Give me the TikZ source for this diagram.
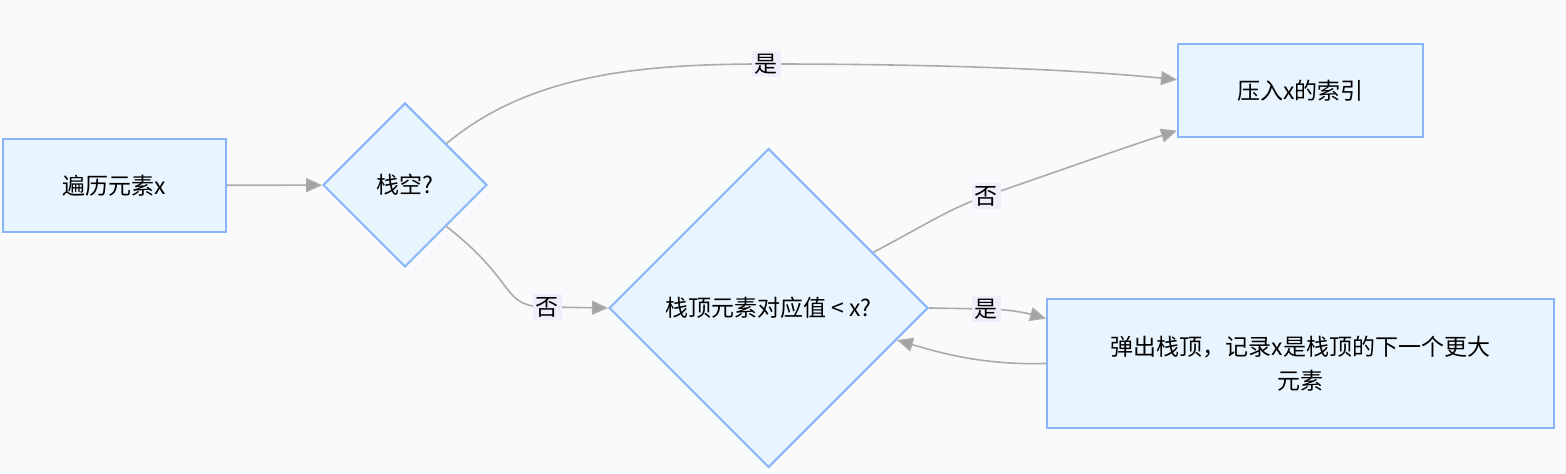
\documentclass[tikz,border=0pt]{standalone}
\usepackage{fontspec}
\setmainfont{Noto Sans CJK SC}
\usetikzlibrary{arrows.meta,shapes.geometric}
\definecolor{Canvas}{HTML}{F9FAFC}
\definecolor{Stroke}{HTML}{8AB4F8}
\definecolor{Fill}{HTML}{E8F4FE}
\definecolor{Edge}{HTML}{ABABAB}
\definecolor{Tip}{HTML}{A3A3A3}
\definecolor{Tag}{HTML}{F2EDFB}
\tikzset{box/.style={draw=Stroke,fill=Fill,line width=1pt,align=center,inner sep=0pt},choice/.style={diamond,aspect=1,draw=Stroke,fill=Fill,line width=1pt,align=center,inner sep=0pt},flow/.style={-{Triangle[length=8pt,width=7pt,fill=Tip]},line width=.8pt,draw=Edge},tag/.style={fill=Tag,inner sep=1.5pt}}

\begin{document}
\begin{tikzpicture}[x=.5pt,y=.5pt,every node/.style={font=\fontsize{11.5}{17}\selectfont}]
      \fill[Canvas](0,0)rectangle(1566,474);
      \useasboundingbox(0,0)rectangle(1566,474);
      \node[box,minimum width=111.5pt,minimum height=46.5pt](loop)at(114.5,288.5){遍历元素x};
      \node[choice,minimum width=82pt,minimum height=82pt](empty)at(405,289){栈空?};
      \node[box,minimum width=122.5pt,minimum height=46.5pt](push)at(1300.5,383.5){压入x的索引};
      \node[choice,minimum width=159.5pt,minimum height=159.5pt](cmp)at(768.5,166){栈顶元素对应值 < x?};
      \node[box,minimum width=253.5pt,minimum height=64.5pt](pop)at(1300.5,110.5){弹出栈顶，记录x是栈顶的下一个更大\\元素};
      \coordinate(yes1)at(766,410);\coordinate(no1)at(547,167);
      \coordinate(no2)at(986,278);\coordinate(yes2)at(986,165);
      \draw[flow](loop)--(empty);
      \draw[flow](empty.north east)..controls(530,400)and(640,410)..(yes1)..controls(950,410)and(1080,404)..(push.175);
      \draw[flow](empty.south east)..controls(520,190)and(500,167)..(no1)--(cmp.west);
      \draw[flow](cmp.28)..controls(920,246)and(950,266)..(no2)..controls(1050,300)and(1120,325)..(push.198);
      \draw[flow](cmp.east)--(yes2)..controls(1010,165)and(1030,160)..(pop.170);
      \draw[flow](pop.west)..controls(990,109)and(950,118)..(cmp.-14);
      \node[tag]at(yes1){是};\node[tag]at(no1){否};
      \node[tag]at(no2){否};\node[tag]at(yes2){是};
    \end{tikzpicture}
\end{document}
